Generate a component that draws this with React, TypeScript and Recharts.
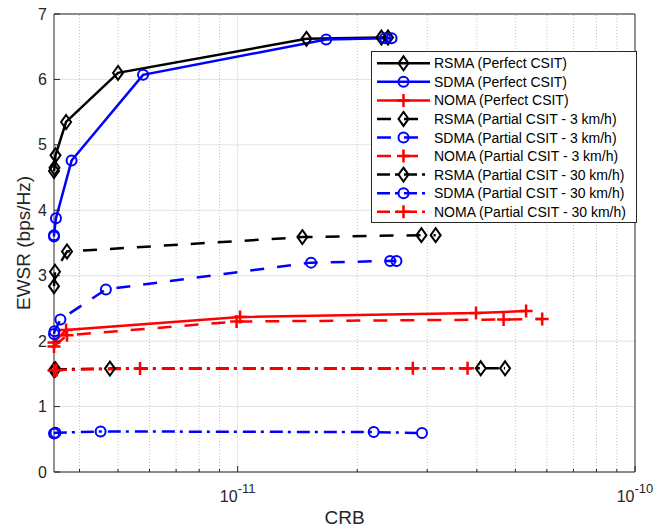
import {
  LineChart,
  Line,
  XAxis,
  YAxis,
  CartesianGrid,
  ReferenceLine,
  Legend,
  Label,
} from 'recharts';

// CRB (x) and EWSR (y)
const rsmaPerfectX = [3.45e-12, 3.46e-12, 3.48e-12, 3.7e-12, 5.0e-12, 1.49e-11, 2.3e-11, 2.39e-11];
const rsmaPerfectY = [4.6, 4.65, 4.84, 5.35, 6.1, 6.62, 6.64, 6.64];
const sdmaPerfectX = [3.45e-12, 3.45e-12, 3.49e-12, 3.82e-12, 5.78e-12, 1.67e-11, 2.35e-11, 2.44e-11];
const sdmaPerfectY = [3.6, 3.62, 3.88, 4.76, 6.07, 6.61, 6.63, 6.63];
const nomaPerfectX = [3.45e-12, 3.7e-12, 1.014e-11, 3.98e-11, 5.32e-11];
const nomaPerfectY = [1.98, 2.17, 2.37, 2.43, 2.46];

const rsma3X = [3.45e-12, 3.47e-12, 3.72e-12, 1.455e-11, 2.9e-11, 3.15e-11];
const rsma3Y = [2.84, 3.06, 3.37, 3.59, 3.62, 3.62];
const sdma3X = [3.45e-12, 3.46e-12, 3.58e-12, 4.66e-12, 1.53e-11, 2.42e-11, 2.51e-11];
const sdma3Y = [2.11, 2.15, 2.33, 2.79, 3.2, 3.225, 3.225];
const noma3X = [3.45e-12, 3.72e-12, 9.94e-12, 4.67e-11, 5.84e-11];
const noma3Y = [1.92, 2.09, 2.3, 2.33, 2.34];

const rsma30X = [3.45e-12, 3.48e-12, 4.77e-12, 4.09e-11, 4.71e-11];
const rsma30Y = [1.56, 1.57, 1.58, 1.585, 1.585];
const sdma30X = [3.45e-12, 3.48e-12, 4.52e-12, 2.2e-11, 2.91e-11];
const sdma30Y = [0.59, 0.6, 0.62, 0.61, 0.595];
const noma30X = [3.45e-12, 3.5e-12, 5.68e-12, 2.76e-11, 3.79e-11];
const noma30Y = [1.55, 1.56, 1.58, 1.585, 1.585];

const xDomain = [3.45e-12, 1e-10];
const xTicks = [
  4e-12, 5e-12, 6e-12, 7e-12, 8e-12, 9e-12, 1e-11,
  2e-11, 3e-11, 4e-11, 5e-11, 6e-11, 7e-11, 8e-11, 9e-11, 1e-10,
];
const minorGrid = xTicks.filter((v) => v !== 1e-11 && v !== 1e-10);
const yTicks = [0, 1, 2, 3, 4, 5, 6, 7];

const toPoints = (xs: number[], ys: number[]) => xs.map((x, i) => ({ x, y: ys[i] }));

const DASH = '14 13';
const DASHDOT = '13 5 3 6';

const series = [
  { name: 'RSMA (Perfect CSIT)', color: '#000000', marker: 'diamond', dash: undefined, data: toPoints(rsmaPerfectX, rsmaPerfectY) },
  { name: 'SDMA (Perfect CSIT)', color: '#0000ff', marker: 'circle', dash: undefined, data: toPoints(sdmaPerfectX, sdmaPerfectY) },
  { name: 'NOMA (Perfect CSIT)', color: '#ff0000', marker: 'plus', dash: undefined, data: toPoints(nomaPerfectX, nomaPerfectY) },
  { name: 'RSMA (Partial CSIT - 3 km/h)', color: '#000000', marker: 'diamond', dash: DASH, data: toPoints(rsma3X, rsma3Y) },
  { name: 'SDMA (Partial CSIT - 3 km/h)', color: '#0000ff', marker: 'circle', dash: DASH, data: toPoints(sdma3X, sdma3Y) },
  { name: 'NOMA (Partial CSIT - 3 km/h)', color: '#ff0000', marker: 'plus', dash: DASH, data: toPoints(noma3X, noma3Y) },
  { name: 'RSMA (Partial CSIT - 30 km/h)', color: '#000000', marker: 'diamond', dash: DASHDOT, data: toPoints(rsma30X, rsma30Y) },
  { name: 'SDMA (Partial CSIT - 30 km/h)', color: '#0000ff', marker: 'circle', dash: DASHDOT, data: toPoints(sdma30X, sdma30Y) },
  { name: 'NOMA (Partial CSIT - 30 km/h)', color: '#ff0000', marker: 'plus', dash: DASHDOT, data: toPoints(noma30X, noma30Y) },
];

const AXIS = '#262626';

const Marker = ({ cx, cy, kind, color }: any) => {
  if (cx == null || cy == null) return null;
  if (kind === 'diamond') {
    return (
      <path
        d={`M${cx},${cy - 7} L${cx + 5},${cy} L${cx},${cy + 7} L${cx - 5},${cy} Z`}
        fill='none'
        stroke={color}
        strokeWidth={2}
      />
    );
  }
  if (kind === 'circle') {
    return <circle cx={cx} cy={cy} r={5} fill='none' stroke={color} strokeWidth={2} />;
  }
  return (
    <path
      d={`M${cx - 6.5},${cy} H${cx + 6.5} M${cx},${cy - 6.5} V${cy + 6.5}`}
      stroke={color}
      strokeWidth={2.5}
      fill='none'
    />
  );
};

const XTick = ({ x, y, payload, top }: any) => {
  const lg = Math.log10(payload.value);
  const exp = Math.round(lg);
  const major = Math.abs(lg - exp) < 1e-6;
  const len = major ? 6 : 3;
  return (
    <g>
      <line x1={x} x2={x} y1={y} y2={top ? y + len : y - len} stroke={AXIS} />
      {!top && major ? (
        <text x={x} y={y + 30} textAnchor='middle' fontSize={16} fill={AXIS}>
          <tspan>10</tspan>
          <tspan dy={-9} fontSize={13}>{`${exp}`}</tspan>
        </text>
      ) : null}
    </g>
  );
};

const YTick = ({ x, y, payload, right }: any) => (
  <g>
    <line x1={x} x2={right ? x - 6 : x + 6} y1={y} y2={y} stroke={AXIS} />
    {!right ? (
      <text x={x - 7} y={y} dy='0.35em' textAnchor='end' fontSize={16} fill={AXIS}>
        {payload.value}
      </text>
    ) : null}
  </g>
);

const LegendBox = () => (
  <svg width={267} height={173}>
    <rect x={0.5} y={0.5} width={265} height={171} fill='#ffffff' stroke={AXIS} />
    {series.map((s, i) => {
      const cy = 12.3 + i * 18.55;
      return (
        <g key={s.name}>
          <line x1={6} x2={59} y1={cy} y2={cy} stroke={s.color} strokeWidth={2.5} strokeDasharray={s.dash} />
          <Marker cx={32.5} cy={cy} kind={s.marker} color={s.color} />
          <text x={63} y={cy} dy='0.36em' fontSize={14} fill='#000'>
            {s.name}
          </text>
        </g>
      );
    })}
  </svg>
);

export default function App() {
  return (
    <div
      style={{
        position: 'absolute',
        left: 0,
        top: 0,
        width: 666,
        height: 529,
        background: '#fff',
        fontFamily: '"Liberation Sans", Arial, Helvetica, sans-serif',
      }}
    >
      <LineChart width={666} height={529} margin={{ top: 13, right: 30, bottom: 56, left: 53 }}>
        <CartesianGrid vertical={false} stroke='#e2e2e2' />
        {minorGrid.map((v) => (
          <ReferenceLine key={v} x={v} stroke='#c4c4c4' strokeDasharray='1 2' />
        ))}
        <ReferenceLine x={1e-11} stroke='#e2e2e2' />
        <XAxis
          type='number'
          dataKey='x'
          scale='log'
          domain={xDomain}
          ticks={xTicks}
          interval={0}
          height={1}
          tickSize={0}
          tickMargin={0}
          tickLine={false}
          axisLine={false}
          tick={(p: any) => <XTick {...p} />}
        >
          <Label
            content={({ viewBox }: any) => (
              <text x={viewBox.x + viewBox.width / 2} y={524} textAnchor='middle' fontSize={19} fill={AXIS}>
                CRB
              </text>
            )}
          />
        </XAxis>
        <XAxis
          xAxisId='top'
          orientation='top'
          type='number'
          dataKey='x'
          scale='log'
          domain={xDomain}
          ticks={xTicks}
          interval={0}
          height={1}
          tickSize={0}
          tickMargin={0}
          tickLine={false}
          axisLine={false}
          tick={(p: any) => <XTick {...p} top />}
        />
        <YAxis
          type='number'
          domain={[0, 7]}
          ticks={yTicks}
          interval={0}
          width={1}
          tickSize={0}
          tickMargin={0}
          tickLine={false}
          axisLine={false}
          tick={(p: any) => <YTick {...p} />}
        >
          <Label
            content={({ viewBox }: any) => {
              const cy = viewBox.y + viewBox.height / 2;
              return (
                <text x={30} y={cy} transform={`rotate(-90, 30, ${cy})`} textAnchor='middle' fontSize={19} fill={AXIS}>
                  EWSR (bps/Hz)
                </text>
              );
            }}
          />
        </YAxis>
        <YAxis
          yAxisId='right'
          orientation='right'
          type='number'
          domain={[0, 7]}
          ticks={yTicks}
          interval={0}
          width={1}
          tickSize={0}
          tickMargin={0}
          tickLine={false}
          axisLine={false}
          tick={(p: any) => <YTick {...p} right />}
        />
        {/* plot box */}
        <ReferenceLine x={xDomain[0]} stroke={AXIS} />
        <ReferenceLine x={xDomain[1]} stroke={AXIS} />
        <ReferenceLine y={0} stroke={AXIS} />
        <ReferenceLine y={7} stroke={AXIS} />
        {series.map((s) => (
          <Line
            key={s.name}
            name={s.name}
            data={s.data}
            dataKey='y'
            type='linear'
            stroke={s.color}
            strokeWidth={2.5}
            strokeDasharray={s.dash}
            isAnimationActive={false}
            activeDot={false}
            dot={(p: any) => <Marker key={`${s.name}-${p.index}`} cx={p.cx} cy={p.cy} kind={s.marker} color={s.color} />}
          />
        ))}
        <Legend
          layout='horizontal'
          verticalAlign='middle'
          align='center'
          content={() => <LegendBox />}
          wrapperStyle={{ position: 'absolute', left: 371, top: 51, width: 267, height: 173 }}
        />
      </LineChart>
    </div>
  );
}
